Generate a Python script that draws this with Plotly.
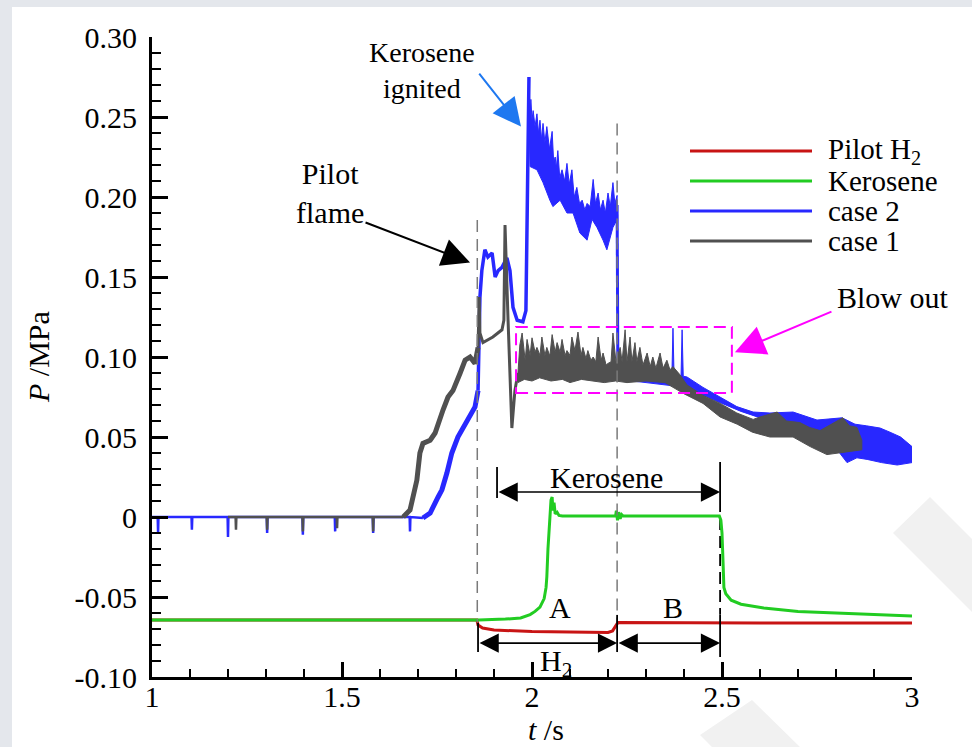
import plotly.graph_objects as go
import numpy as np

# ---------------- data (t in s, P in MPa) ----------------
h2_t = [1.000, 1.855, 1.858, 1.870, 1.900, 1.950, 2.000, 2.100, 2.200, 2.212, 2.222, 2.226, 2.600, 3.000]
h2_p = [-0.0644, -0.0644, -0.0675, -0.0694, -0.0706, -0.0713, -0.0716, -0.0719, -0.0722, -0.0712, -0.0680, -0.0660, -0.0662, -0.0663]

ker_t = [1.000, 1.860, 1.930, 1.970, 1.995, 2.008, 2.021, 2.032, 2.037, 2.039,
         2.042, 2.045, 2.050, 2.053, 2.055, 2.058, 2.061, 2.066, 2.071, 2.080,
         2.150, 2.220, 2.222, 2.225, 2.228, 2.232, 2.236, 2.240, 2.350, 2.493,
         2.497, 2.500, 2.503, 2.505, 2.510, 2.524, 2.550, 2.610, 2.700, 2.790,
         2.900, 3.000]
ker_p = [-0.0644, -0.0644, -0.0638, -0.0631, -0.0610, -0.0590, -0.0563, -0.0510, -0.0440, -0.0375,
         -0.0200, -0.0060, 0.0106, 0.0125, 0.0040, 0.0090, 0.0020, 0.0030, 0.0010, 0.0006,
         0.0006, 0.0006, 0.0040, -0.0020, 0.0030, -0.0010, 0.0015, 0.0006, 0.0006, 0.0006,
         -0.0020, -0.0100, -0.0300, -0.0440, -0.0480, -0.0520, -0.0545, -0.0569, -0.0590, -0.0600,
         -0.0610, -0.0619]

# case 2
c2_base_t = [1.000, 1.015, 1.016, 1.017, 1.104, 1.105, 1.106, 1.199, 1.200, 1.201, 1.302, 1.303, 1.304,
             1.396, 1.397, 1.398, 1.481, 1.482, 1.483, 1.581, 1.582, 1.583, 1.678, 1.679, 1.680, 1.713]
c2_base_p = [0, 0, -0.010, 0, 0, -0.008, 0, 0, -0.0125, 0, 0, -0.010, 0,
             0, -0.011, 0, 0, -0.009, 0, 0, -0.010, 0, 0, -0.009, 0, -0.0006]
c2_rise_t = [1.713, 1.732, 1.753, 1.763, 1.776, 1.789, 1.805, 1.832, 1.850, 1.858]
c2_rise_p = [-0.0006, 0.0025, 0.0125, 0.017, 0.0275, 0.040, 0.050, 0.0606, 0.0688, 0.079]
c2_pre_t = [1.858, 1.863, 1.868, 1.876, 1.884, 1.895, 1.903, 1.911, 1.921, 1.934, 1.942, 1.950, 1.961, 1.976, 1.984, 1.992]
c2_pre_p = [0.079, 0.1375, 0.154, 0.167, 0.1625, 0.165, 0.150, 0.154, 0.156, 0.162, 0.154, 0.131, 0.123, 0.122, 0.129, 0.275]
c2_b1_up_t = [1.992, 1.995, 1.997, 2.000, 2.003, 2.008, 2.013, 2.017, 2.021, 2.025, 2.029, 2.034, 2.039, 2.046,
              2.053, 2.057, 2.061, 2.064, 2.068, 2.073, 2.079, 2.086, 2.092, 2.098, 2.105, 2.111, 2.118, 2.125,
              2.132, 2.139, 2.145, 2.153, 2.161, 2.167, 2.174, 2.180, 2.187, 2.193, 2.200, 2.206, 2.213, 2.218, 2.224]
c2_b1_up_p = [0.275, 0.250, 0.261, 0.248, 0.254, 0.244, 0.252, 0.240, 0.248, 0.236, 0.246, 0.234, 0.244, 0.230,
              0.241, 0.222, 0.225, 0.218, 0.229, 0.212, 0.217, 0.210, 0.221, 0.208, 0.217, 0.200, 0.206, 0.196,
              0.198, 0.192, 0.196, 0.194, 0.211, 0.196, 0.2025, 0.192, 0.198, 0.190, 0.2025, 0.194, 0.209, 0.196, 0.201]
c2_b1_lo_t = [1.992, 1.995, 2.013, 2.029, 2.047, 2.055, 2.074, 2.092, 2.108, 2.126, 2.145, 2.158, 2.171, 2.187, 2.197, 2.213, 2.224]
c2_b1_lo_p = [0.250, 0.219, 0.217, 0.209, 0.198, 0.194, 0.198, 0.190, 0.190, 0.1775, 0.173, 0.186, 0.181, 0.173, 0.167, 0.181, 0.186]
c2_drop_t = [2.224, 2.226]
c2_drop_p = [0.195, 0.090]
c2_b2_up_t = [2.226, 2.260, 2.300, 2.340, 2.368, 2.371, 2.374, 2.392, 2.395, 2.398, 2.408, 2.450, 2.495, 2.539,
              2.582, 2.626, 2.687, 2.750, 2.816, 2.850, 2.880, 2.916, 2.942, 2.970, 3.000]
c2_b2_up_p = [0.095, 0.092, 0.090, 0.088, 0.087, 0.118, 0.087, 0.086, 0.117, 0.088, 0.0875, 0.081, 0.075, 0.069,
              0.0656, 0.065, 0.0656, 0.0606, 0.062, 0.058, 0.057, 0.0556, 0.053, 0.050, 0.044]
c2_b2_lo_t = [2.226, 2.300, 2.370, 2.420, 2.460, 2.500, 2.550, 2.600, 2.650, 2.700, 2.750, 2.800, 2.829, 2.855,
              2.882, 2.920, 2.961, 3.000]
c2_b2_lo_p = [0.086, 0.084, 0.082, 0.078, 0.075, 0.071, 0.066, 0.062, 0.058, 0.054, 0.048, 0.043, 0.034, 0.037,
              0.036, 0.034, 0.0325, 0.034]

# case 1
c1_base_t = [1.200, 1.220, 1.221, 1.222, 1.302, 1.303, 1.304, 1.396, 1.397, 1.398, 1.486, 1.487, 1.488, 1.581, 1.582, 1.583, 1.661]
c1_base_p = [0, 0, -0.008, 0, 0, -0.008, 0, 0, -0.009, 0, 0, -0.007, 0, 0, -0.009, 0, 0]
c1_rise_t = [1.661, 1.679, 1.697, 1.705, 1.713, 1.732, 1.745, 1.753, 1.766, 1.779, 1.792, 1.811, 1.824, 1.837, 1.850, 1.858]
c1_rise_p = [0, 0.0044, 0.023, 0.040, 0.046, 0.048, 0.0525, 0.059, 0.067, 0.075, 0.079, 0.090, 0.098, 0.100, 0.096, 0.106]
c1_pre_t = [1.858, 1.861, 1.863, 1.871, 1.897, 1.921, 1.926, 1.929, 1.937, 1.947, 1.955, 1.963]
c1_pre_p = [0.106, 0.1375, 0.115, 0.109, 0.1125, 0.117, 0.123, 0.1825, 0.123, 0.0556, 0.079, 0.090]
c1_up_t = [1.963, 1.968, 1.974, 1.982, 1.987, 1.995, 2.000, 2.008, 2.013, 2.021,
           2.026, 2.034, 2.039, 2.047, 2.053, 2.061, 2.066, 2.074, 2.079, 2.087,
           2.092, 2.100, 2.105, 2.113, 2.121, 2.129, 2.134, 2.142, 2.147, 2.155,
           2.161, 2.168, 2.174, 2.182, 2.187, 2.195, 2.200, 2.208, 2.213, 2.221,
           2.232, 2.237, 2.245, 2.250, 2.258, 2.263, 2.271, 2.276, 2.284, 2.292,
           2.303, 2.311, 2.318, 2.326, 2.337, 2.345, 2.355, 2.363, 2.371, 2.389,
           2.408, 2.450, 2.495, 2.539, 2.582, 2.600, 2.645, 2.670, 2.705, 2.730,
           2.758, 2.790, 2.818, 2.835, 2.855, 2.868]
c1_up_p = [0.090, 0.1075, 0.115, 0.098, 0.111, 0.101, 0.112, 0.103, 0.106, 0.101,
           0.1125, 0.101, 0.106, 0.1006, 0.114, 0.103, 0.109, 0.103, 0.111, 0.101,
           0.104, 0.101, 0.1125, 0.104, 0.1156, 0.101, 0.106, 0.099, 0.104, 0.098,
           0.100, 0.097, 0.1125, 0.098, 0.1025, 0.095, 0.096, 0.097, 0.115, 0.097,
           0.106, 0.097, 0.117, 0.097, 0.1125, 0.097, 0.109, 0.097, 0.106, 0.095,
           0.1025, 0.094, 0.100, 0.093, 0.1025, 0.093, 0.098, 0.092, 0.094, 0.089,
           0.0825, 0.076, 0.071, 0.065, 0.061, 0.0625, 0.0656, 0.060, 0.059, 0.056,
           0.054, 0.058, 0.062, 0.057, 0.056, 0.048]
c1_lo_t = [1.963, 1.980, 2.000, 2.020, 2.050, 2.080, 2.100, 2.130, 2.160, 2.190,
           2.220, 2.250, 2.300, 2.350, 2.400, 2.450, 2.495, 2.540, 2.580, 2.626,
           2.687, 2.732, 2.776, 2.837, 2.868]
c1_lo_p = [0.084, 0.086, 0.085, 0.087, 0.085, 0.086, 0.084, 0.086, 0.085, 0.084,
           0.085, 0.084, 0.085, 0.084, 0.077, 0.071, 0.0625, 0.058, 0.053, 0.050,
           0.050, 0.044, 0.039, 0.041, 0.042]

y_ticks = [-0.10, -0.05, 0, 0.05, 0.10, 0.15, 0.20, 0.25, 0.30]
y_labels = ["-0.10", "-0.05", "0", "0.05", "0.10", "0.15", "0.20", "0.25", "0.30"]
x_ticks = [1, 1.5, 2, 2.5, 3]
x_labels = ["1", "1.5", "2", "2.5", "3"]

legend_names = ["Pilot H<sub>2</sub>", "Kerosene", "case 2", "case 1"]

# ---------------- style ----------------
RED = "#c81414"
GREEN = "#22cc22"
BLUE = "#2828ff"
GRAY = "#505050"
MAG = "#ff00ff"
ARROWBLUE = "#1e78f0"
FONT = "Liberation Serif"
FS = 30

fig = go.Figure()


def line(t, p, color, width):
    fig.add_trace(go.Scatter(x=t, y=p, mode="lines", line=dict(color=color, width=width),
                             showlegend=False, hoverinfo="skip"))


def band(up_t, up_p, lo_t, lo_p, color):
    xs = list(up_t) + list(lo_t)[::-1]
    ys = list(up_p) + list(lo_p)[::-1]
    fig.add_trace(go.Scatter(x=xs, y=ys, mode="lines", fill="toself", fillcolor=color,
                             line=dict(color=color, width=1), showlegend=False, hoverinfo="skip"))


line(h2_t, h2_p, RED, 3)
line(ker_t, ker_p, GREEN, 3)

line(c2_base_t, c2_base_p, BLUE, 2.5)
line(c2_rise_t, c2_rise_p, BLUE, 5)
line(c2_pre_t, c2_pre_p, BLUE, 3.5)
band(c2_b1_up_t, c2_b1_up_p, c2_b1_lo_t, c2_b1_lo_p, BLUE)
line(c2_drop_t, c2_drop_p, BLUE, 3)
band(c2_b2_up_t, c2_b2_up_p, c2_b2_lo_t, c2_b2_lo_p, BLUE)

line(c1_base_t, c1_base_p, GRAY, 2.5)
line(c1_rise_t, c1_rise_p, GRAY, 5)
line(c1_pre_t, c1_pre_p, GRAY, 3)
band(c1_up_t, c1_up_p, c1_lo_t, c1_lo_p, GRAY)

# ---------------- decorations ----------------
W, H = 972, 747
L, R, T, B = 152, 60, 37, 70
PW, PH = W - L - R, H - T - B


def px(x):
    return (x - L) / PW


def py(y):
    return (H - B - y) / PH


shapes = []
shapes.append(dict(type="rect", xref="paper", yref="paper", x0=px(0), x1=px(12), y0=py(H), y1=py(0),
                   fillcolor="#e4e7ec", line=dict(width=0), layer="below"))
shapes.append(dict(type="rect", xref="paper", yref="paper", x0=px(0), x1=px(W), y0=py(7), y1=py(0),
                   fillcolor="#e4e7ec", line=dict(width=0), layer="below"))
for poly in ([(893, 533), (930, 497), (1230, 797), (1193, 833)],
             [(700, 735), (752, 700), (800, 747), (712, 747)]):
    path = "M " + " L ".join(f"{px(a):.4f},{py(b):.4f}" for a, b in poly) + " Z"
    shapes.append(dict(type="path", xref="paper", yref="paper", path=path,
                       fillcolor="#f1f1f1", line=dict(width=0), layer="below"))

for xv, ytop in ((1.856, 0.1856), (2.224, 0.246)):
    shapes.append(dict(type="line", xref="x", yref="y", x0=xv, x1=xv, y0=ytop, y1=-0.066,
                       line=dict(color="#7a7a7a", width=1.5, dash="12px,7px")))
for xv, y0, y1 in ((1.858, -0.0663, -0.0844), (2.224, -0.0612, -0.0844), (2.495, -0.061, -0.0875),
                   (2.495, 0.0344, 0.0106), (1.908, 0.0312, 0.0119)):
    shapes.append(dict(type="line", xref="x", yref="y", x0=xv, x1=xv, y0=y0, y1=y1,
                       line=dict(color="black", width=1.8)))
shapes.append(dict(type="line", xref="x", yref="y", x0=2.495, x1=2.495, y0=0.0106, y1=-0.061,
                   line=dict(color="black", width=1.8, dash="12px,6px"), layer="below"))
shapes.append(dict(type="rect", xref="x", yref="y", x0=1.958, x1=2.526, y0=0.0775, y1=0.1188,
                   line=dict(color=MAG, width=2, dash="12px,6px")))
leg_colors = [RED, GREEN, BLUE, GRAY]
leg_y = [py(151), py(181), py(211), py(241)]
for c, yy in zip(leg_colors, leg_y):
    shapes.append(dict(type="line", xref="paper", yref="paper", x0=px(690), x1=px(812), y0=yy, y1=yy,
                       line=dict(color=c, width=3)))

ann = []
tf = dict(family=FONT, size=FS, color="black")
for name, yy in zip(legend_names, leg_y):
    ann.append(dict(xref="paper", yref="paper", x=px(826), y=yy, text=name, showarrow=False,
                    xanchor="left", yanchor="middle", font=dict(family=FONT, size=29, color="black")))


def arrow(x, y, ax, ay, color, width, size, both=False):
    d = dict(xref="x", yref="y", axref="x", ayref="y", x=x, y=y, ax=ax, ay=ay, text="",
             showarrow=True, arrowhead=2, arrowsize=size, arrowwidth=width, arrowcolor=color,
             standoff=0, startstandoff=0)
    if both:
        d.update(arrowside="end+start", startarrowhead=2, startarrowsize=size)
    ann.append(d)


arrow(1.971, 0.244, 1.858, 0.278, ARROWBLUE, 2, 2.8)
arrow(1.837, 0.159, 1.558, 0.1844, "black", 2, 2.8)
arrow(2.534, 0.103, 2.792, 0.1288, MAG, 2, 3.0)
arrow(2.495, 0.0156, 1.908, 0.0156, "black", 1.6, 2.4, both=True)
arrow(2.224, -0.0788, 1.858, -0.0788, "black", 1.6, 2.4, both=True)
arrow(2.495, -0.0788, 2.224, -0.0788, "black", 1.6, 2.4, both=True)

for txt, x, y, s in (("Kerosene<br>ignited", 1.71, 0.279, 28), ("Pilot<br>flame", 1.468, 0.2025, 30),
                     ("Blow out", 2.95, 0.137, 30), ("Kerosene", 2.197, 0.0244, 30),
                     ("A", 2.074, -0.0563, 30), ("B", 2.371, -0.0563, 30), ("H<sub>2</sub>", 2.063, -0.091, 30)):
    ann.append(dict(xref="x", yref="y", x=x, y=y, text=txt, showarrow=False,
                    font=dict(family=FONT, size=s, color="black"),
                    xanchor="center", yanchor="middle"))

ann.append(dict(xref="paper", yref="paper", x=px(38), y=py(357), text="<i>P</i> /MPa", textangle=-90,
                showarrow=False, font=tf, xanchor="center", yanchor="middle"))
ann.append(dict(xref="paper", yref="paper", x=px(546), y=py(747), text="<i>t</i> /s",
                showarrow=False, font=tf, xanchor="center", yanchor="bottom", borderpad=0))

axis_common = dict(showline=True, linecolor="black", linewidth=3, ticks="inside", tickcolor="black",
                   tickwidth=3, showgrid=False, zeroline=False, mirror=False,
                   tickfont=dict(family=FONT, size=FS, color="black"), tickmode="array")

fig.update_layout(
    width=W, height=H,
    margin=dict(l=L, r=R, t=T, b=B),
    paper_bgcolor="white", plot_bgcolor="rgba(0,0,0,0)",
    xaxis=dict(range=[1, 3], tickvals=x_ticks, ticktext=x_labels, ticklen=15,
               ticklabelstandoff=-9,
               minor=dict(ticks="inside", ticklen=8, tickwidth=2, tickcolor="black",
                          tickmode="linear", tick0=1, dtick=0.1),
               **axis_common),
    yaxis=dict(range=[-0.1, 0.3], tickvals=y_ticks, ticktext=y_labels, ticklen=16,
               ticklabelstandoff=6,
               minor=dict(ticks="inside", ticklen=9, tickwidth=2, tickcolor="black",
                          tickmode="linear", tick0=0, dtick=0.01),
               **axis_common),
    shapes=shapes, annotations=ann, showlegend=False,
    font=dict(family=FONT, size=FS, color="black"),
)

fig.write_html("out.html")
